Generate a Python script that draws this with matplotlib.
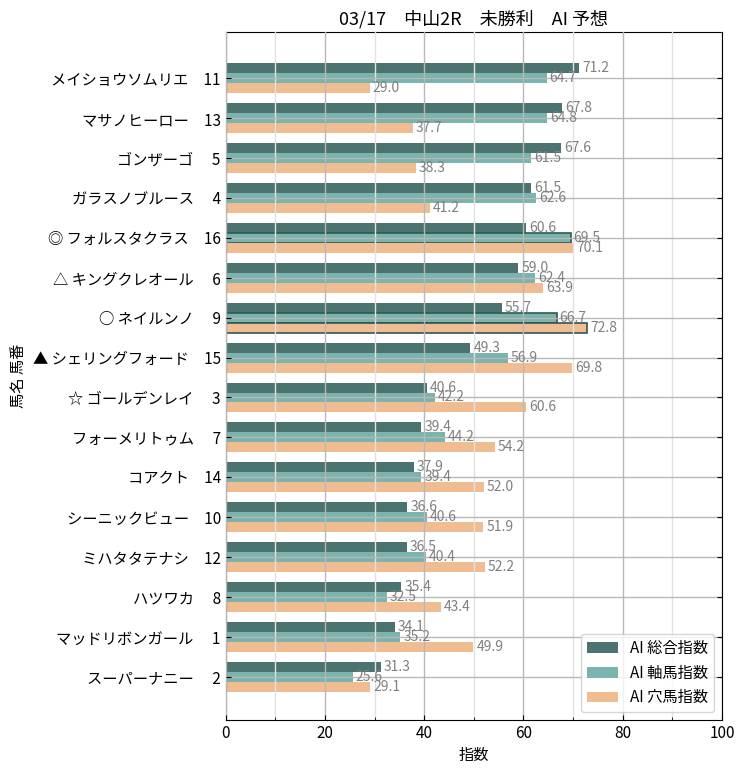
import matplotlib
matplotlib.use("Agg")
import matplotlib.pyplot as plt
from matplotlib.ticker import MultipleLocator
import numpy as np

plt.rcParams['font.family'] = ['Noto Sans CJK JP', 'DejaVu Sans']

# horse names (with marks) and numbers, top to bottom
names = ['メイショウソムリエ', 'マサノヒーロー', 'ゴンザーゴ', 'ガラスノブルース',
         '◎ フォルスタクラス', '△ キングクレオール', '○ ネイルンノ', '▲ シェリングフォード',
         '☆ ゴールデンレイ', 'フォーメリトゥム', 'コアクト', 'シーニックビュー',
         'ミハタタテナシ', 'ハツワカ', 'マッドリボンガール', 'スーパーナニー']
numbers = [11, 13, 5, 4, 16, 6, 9, 15, 3, 7, 14, 10, 12, 8, 1, 2]

total = [71.2, 67.8, 67.6, 61.5, 60.6, 59.0, 55.7, 49.3,
         40.6, 39.4, 37.9, 36.6, 36.5, 35.4, 34.1, 31.3]
jiku = [64.7, 64.8, 61.5, 62.6, 69.5, 62.4, 66.7, 56.9,
        42.2, 44.2, 39.4, 40.6, 40.4, 32.5, 35.2, 25.6]
ana = [29.0, 37.7, 38.3, 41.2, 70.1, 63.9, 72.8, 69.8,
       60.6, 54.2, 52.0, 51.9, 52.2, 43.4, 49.9, 29.1]

# horses whose bars get an outline
jiku_outlined = [16, 9]
ana_outlined = [9]

series_labels = ['AI 総合指数', 'AI 軸馬指数', 'AI 穴馬指数']
colors = ['#4b7470', '#7bb3ad', '#efbd91']
title = '03/17\u3000中山2R\u3000未勝利\u3000AI 予想'

fig = plt.figure(figsize=(7.45, 7.7), dpi=100)
ax = fig.add_axes([0.303, 0.065, 0.666, 0.893])

y = np.arange(len(names))
h = 0.25
series = [total, jiku, ana]
outlined = [[], jiku_outlined, ana_outlined]
for k, (vals, col, lab) in enumerate(zip(series, colors, series_labels)):
    pos = y + (k - 1) * h
    bars = ax.barh(pos, vals, height=h, color=col, label=lab, zorder=1)
    for b, num in zip(bars, numbers):
        if num in outlined[k]:
            b.set_edgecolor('#2f5753')
            b.set_linewidth(1.2)
    for p, v in zip(pos, vals):
        ax.text(v + 0.6, p, f'{v:.1f}', va='center', ha='left',
                fontsize=10, color='#808080', zorder=3)

ax.set_yticks(y)
ax.set_yticklabels([f'{n}\u3000{num:>2}' for n, num in zip(names, numbers)], fontsize=11)
ax.set_ylim(16.08, -1.15)
ax.set_xlim(0, 100)
ax.xaxis.set_major_locator(MultipleLocator(20))
ax.xaxis.set_minor_locator(MultipleLocator(10))
ax.tick_params(axis='x', which='both', direction='in', labelsize=11)
ax.tick_params(axis='y', direction='in', right=True)
ax.set_axisbelow(False)
ax.grid(which='major', color='#b8b8b8', linewidth=1, zorder=2)
ax.grid(which='minor', axis='x', color='#e2e2e2', linewidth=1, zorder=2)

ax.set_title(title, fontsize=13)
ax.set_xlabel('指数', fontsize=11)
ax.set_ylabel('馬名 馬番', fontsize=11)
ax.legend(loc='lower right', fontsize=11)

fig.savefig('out.png', dpi=100)
